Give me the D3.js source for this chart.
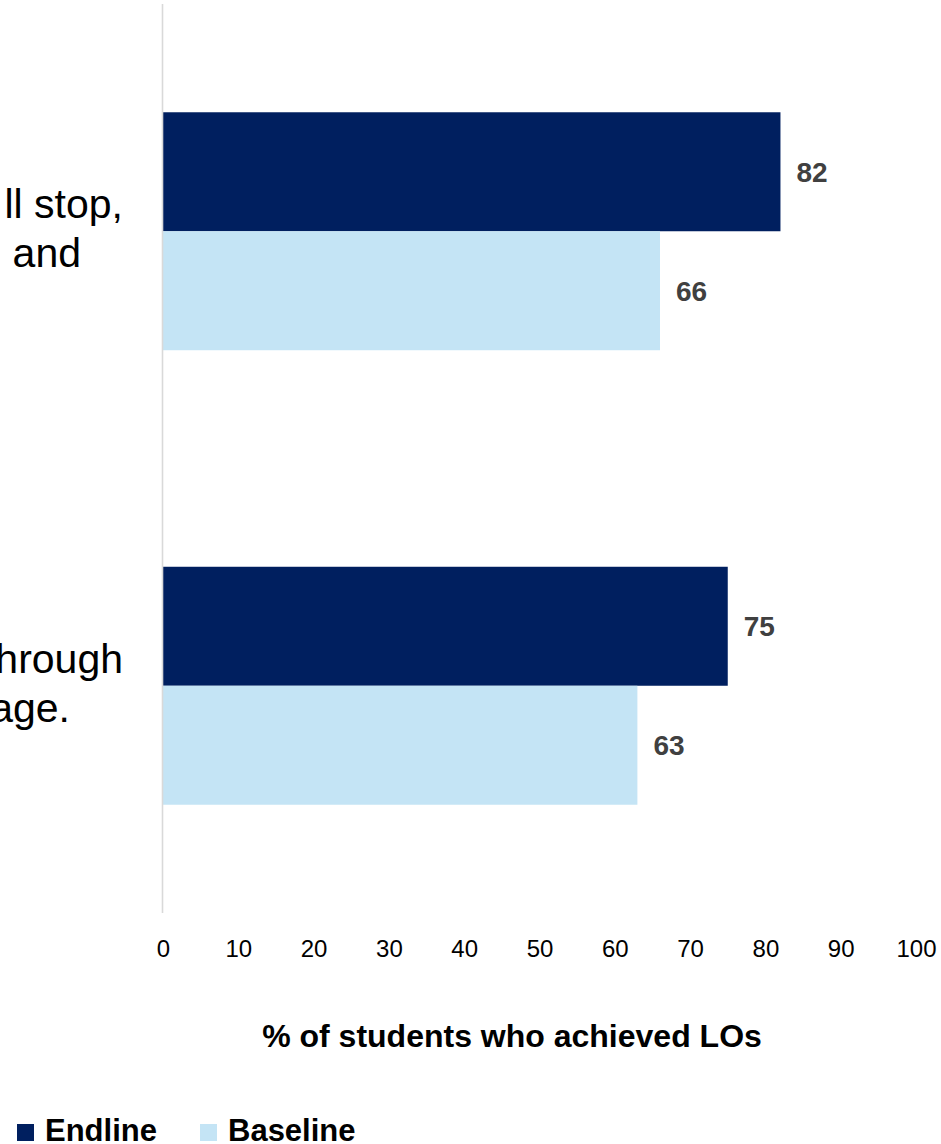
<!DOCTYPE html>
<html>
<head>
<meta charset="utf-8">
<script src="https://cdn.jsdelivr.net/npm/d3@7"></script>
<style>
  html, body { margin: 0; padding: 0; background: #ffffff; }
  svg { display: block; font-family: "Liberation Sans", Arial, Helvetica, sans-serif; }
</style>
</head>
<body>
<svg id="chart" width="941" height="1144"></svg>
<script>
// ---- data ----
const categories = ["cat1", "cat2"];
const categoryLines = [["ll stop,", "and"], ["hrough", "age."]];
const seriesNames = ["Endline", "Baseline"];
const endline = [82, 75];
const baseline = [66, 63];
const tickValues = [0, 10, 20, 30, 40, 50, 60, 70, 80, 90, 100];
const axisTitle = "% of students who achieved LOs";
const colors = { Endline: "#001f5f", Baseline: "#c4e4f5" };

const seriesValues = { Endline: endline, Baseline: baseline };

const svg = d3.select("#chart");

const x = d3.scaleLinear().domain([0, 100]).range([163, 916]);
const y = d3.scaleBand().domain(categories).range([4, 913])
  .paddingInner(0.4764).paddingOuter(0.2382);
const ySub = d3.scaleBand().domain(seriesNames).range([0, y.bandwidth()]);

// bars
categories.forEach((c, i) => {
  const g = svg.append("g").attr("transform", `translate(0,${y(c)})`);
  seriesNames.forEach(s => {
    const v = seriesValues[s][i];
    g.append("rect")
      .attr("x", x(0))
      .attr("y", ySub(s))
      .attr("width", x(v) - x(0))
      .attr("height", ySub.bandwidth())
      .attr("fill", colors[s]);
    g.append("text")
      .attr("x", x(v) + 16)
      .attr("y", ySub(s) + ySub.bandwidth() / 2)
      .attr("dy", "0.36em")
      .attr("font-size", 28)
      .attr("font-weight", "bold")
      .attr("fill", "#404040")
      .text(v);
  });
});

// vertical axis line
svg.append("line")
  .attr("x1", 162.5).attr("x2", 162.5)
  .attr("y1", 4).attr("y2", 913)
  .attr("stroke", "#d9d9d9").attr("stroke-width", 1.6);

// category labels (left part cut off by the frame)
const lineEnds = [[123, 81], [123, 70]];
categories.forEach((c, i) => {
  const cy = y(c) + y.bandwidth() / 2;
  categoryLines[i].forEach((t, j) => {
    svg.append("text")
      .attr("x", lineEnds[i][j])
      .attr("y", cy - 13 + j * 49)
      .attr("text-anchor", "end")
      .attr("font-size", 41)
      .attr("fill", "#000000")
      .text(t);
  });
});

// x axis
const xAxis = d3.axisBottom(x).tickValues(tickValues).tickSize(0).tickPadding(27);
const ax = svg.append("g").attr("transform", "translate(0,913)").call(xAxis);
ax.select(".domain").remove();
ax.selectAll("text")
  .attr("font-size", 24)
  .attr("font-family", "\"Liberation Sans\", Arial, Helvetica, sans-serif")
  .attr("fill", "#000000");

// axis title
svg.append("text")
  .attr("x", 512).attr("y", 1047)
  .attr("text-anchor", "middle")
  .attr("font-size", 32)
  .attr("font-weight", "bold")
  .attr("fill", "#000000")
  .text(axisTitle);

// legend
const legendX = [17, 200];
seriesNames.forEach((s, i) => {
  const g = svg.append("g").attr("transform", `translate(${legendX[i]},0)`);
  g.append("rect").attr("x", 0).attr("y", 1124).attr("width", 17).attr("height", 17)
    .attr("fill", colors[s]);
  g.append("text").attr("x", 28).attr("y", 1141)
    .attr("font-size", 31).attr("font-weight", "bold").attr("fill", "#000000")
    .text(s);
});
</script>
</body>
</html>
